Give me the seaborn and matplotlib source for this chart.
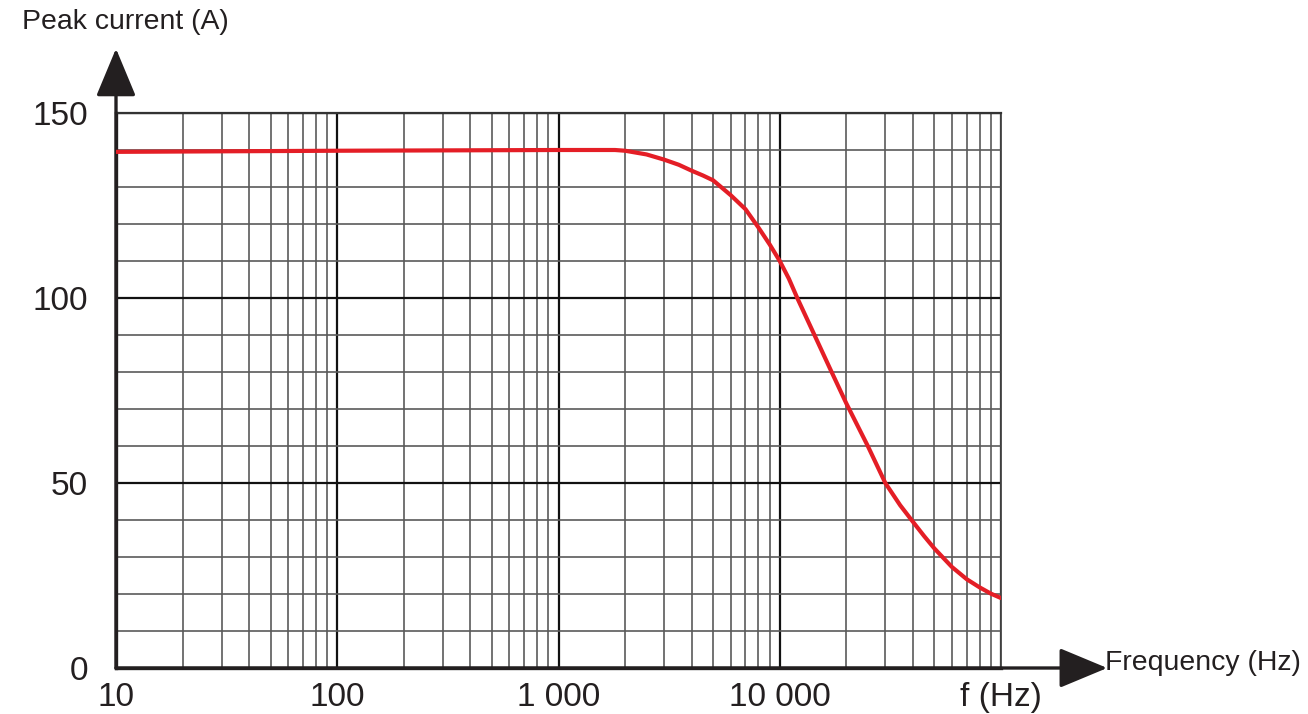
import numpy as np
import pandas as pd
import matplotlib
matplotlib.use("Agg")
import matplotlib.pyplot as plt
from matplotlib.ticker import FixedLocator, NullFormatter
import seaborn as sns

# values
freq_hz = [10, 100, 1000, 1800, 2000, 2500, 3000, 3500, 4000, 4500, 5000, 6000, 7000,
           8000, 9000, 10000, 11000, 12000, 14300, 17000, 20000, 25000, 30000, 35000,
           40000, 45000, 50000, 60000, 70000, 80000, 90000, 100000]
peak_a = [139.5, 139.8, 140.0, 140.0, 139.8, 138.8, 137.4, 136.0, 134.4, 133.1, 131.8, 127.8,
          124.0, 119.1, 114.5, 110.0, 105.2, 100.0, 90.2, 80.5, 71.5, 60.0, 50.0, 44.0,
          39.5, 35.6, 32.3, 27.3, 24.0, 21.8, 20.1, 18.9]

x_ticks = [10, 100, 1000, 10000, 100000]
x_labels = ["10", "100", "1 000", "10 000", "f (Hz)"]
y_ticks = [0, 50, 100, 150]

df = pd.DataFrame({"f": freq_hz, "I": peak_a})

sns.set_style("white")
plt.rcParams["font.family"] = ["Liberation Sans", "DejaVu Sans"]
ink = "#231f20"

fig = plt.figure(figsize=(13.08, 7.14), dpi=100)
ax = fig.add_axes([116 / 1308, 1 - 668 / 714, 885 / 1308, 555 / 714])

sns.lineplot(data=df, x="f", y="I", ax=ax, color="#e41e26", lw=3)
ax.lines[0].set_zorder(5)
ax.lines[0].set_solid_joinstyle("round")

ax.set_xscale("log")
ax.set_xlim(10, 100000)
ax.set_ylim(0, 150)

# grid
ax.xaxis.set_major_locator(FixedLocator(x_ticks))
ax.xaxis.set_minor_locator(FixedLocator([m * 10 ** d for d in range(1, 5) for m in range(2, 10)]))
ax.xaxis.set_minor_formatter(NullFormatter())
ax.set_yticks(y_ticks)
ax.yaxis.set_minor_locator(FixedLocator(np.arange(10, 150, 10)))
ax.grid(which="major", color="#111111", lw=1.6)
ax.grid(which="minor", color="#5a5a5a", lw=1.2)
ax.set_axisbelow(True)

ax.set_xticklabels(x_labels)
ax.tick_params(which="both", length=0, labelcolor=ink)
ax.tick_params(axis="x", labelsize=24, pad=10)
ax.tick_params(axis="y", labelsize=24, pad=20)
ax.set_xlabel("")
ax.set_ylabel("")

for s in ["left", "bottom"]:
    ax.spines[s].set_linewidth(2.4)
    ax.spines[s].set_color(ink)
ax.spines["top"].set_linewidth(1.6)
ax.spines["top"].set_color("#333333")
ax.spines["right"].set_linewidth(1.3)
ax.spines["right"].set_color("#444444")

# axis arrows
arrow = dict(arrowstyle="-|>,head_length=1.2,head_width=0.5", mutation_scale=25,
             lw=2.4, color=ink, shrinkA=0, shrinkB=0)
ax.annotate("", xy=(0, 1.116), xytext=(0, 0), xycoords="axes fraction",
            arrowprops=arrow, annotation_clip=False)
ax.annotate("", xy=(1.12, 0), xytext=(0, 0), xycoords="axes fraction",
            arrowprops=arrow, annotation_clip=False)

fig.text(22 / 1308, 1 - 22 / 714, "Peak current (A)", fontsize=20.4, va="center", ha="left",
         color=ink)
fig.text(1105 / 1308, 1 - 663 / 714, "Frequency (Hz)", fontsize=20.4, va="center", ha="left",
         color=ink)

fig.savefig("out.png", dpi=100, facecolor="white")
